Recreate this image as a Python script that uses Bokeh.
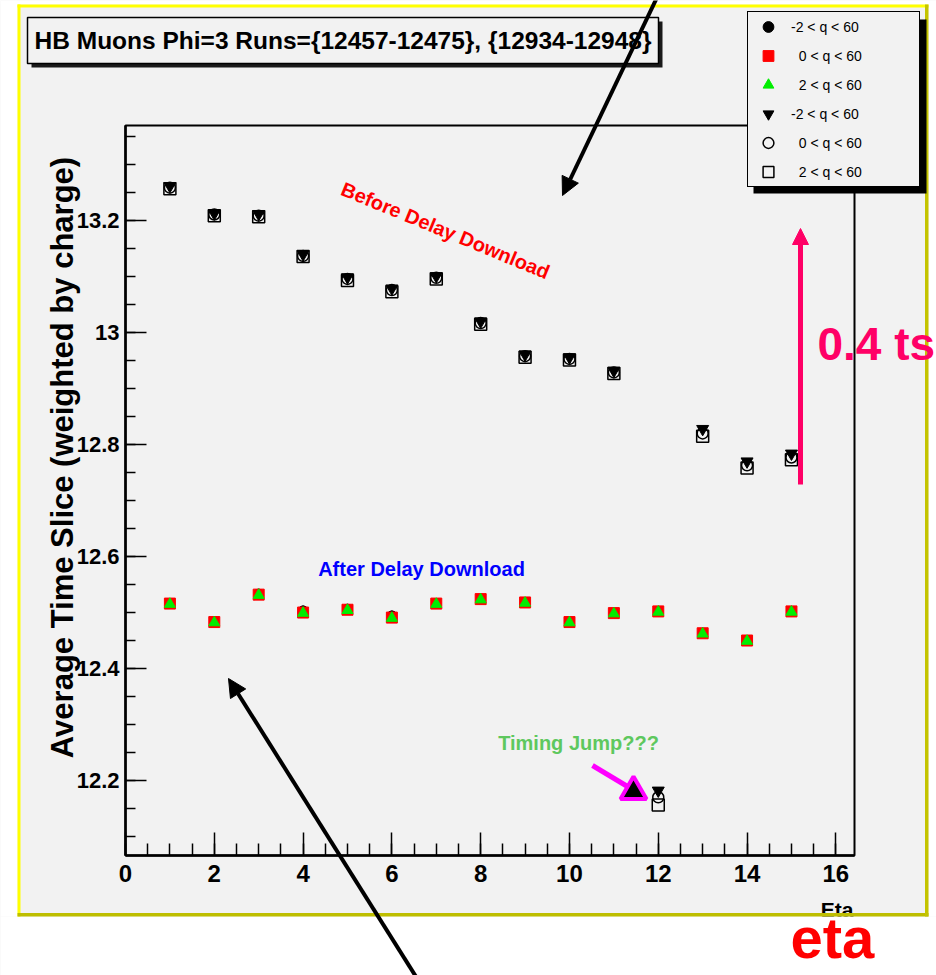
import math
from bokeh.plotting import figure
from bokeh.models import (Range1d, FixedTicker, Label, BoxAnnotation, Arrow,
                          NormalHead, Legend, LegendItem, LinearAxis)
from bokeh.embed import file_html
from bokeh.resources import INLINE

# ---------------- data ----------------
eta = [1, 2, 3, 4, 5, 6, 7, 8, 9, 10, 11, 12, 13, 14, 15]

# after delay download (filled markers)
after_q_m2 = [12.518, 12.485, 12.535, 12.505, 12.508, 12.496, 12.518, 12.526,
              12.520, 12.485, 12.501, 12.504, 12.465, 12.452, 12.504]
after_q_0 = [12.516, 12.483, 12.532, 12.500, 12.505, 12.491, 12.516, 12.524,
             12.518, 12.483, 12.499, 12.502, 12.463, 12.450, 12.502]
after_q_2 = [12.515, 12.482, 12.531, 12.499, 12.504, 12.490, 12.515, 12.523,
             12.517, 12.482, 12.498, 12.501, 12.462, 12.449, 12.501]

# before delay download (open / inverted markers)
before_q_m2 = [13.262, 13.213, 13.212, 13.140, 13.099, 13.079, 13.101, 13.020,
               12.961, 12.956, 12.932, 12.182, 12.828, 12.770, 12.784]
before_q_0 = [13.259, 13.211, 13.209, 13.137, 13.096, 13.076, 13.098, 13.017,
              12.958, 12.953, 12.929, 12.170, 12.820, 12.763, 12.777]
before_q_2 = [13.257, 13.209, 13.207, 13.136, 13.093, 13.073, 13.096, 13.015,
              12.956, 12.951, 12.927, 12.156, 12.815, 12.758, 12.773]

legend_labels = ["-2 < q < 60", "\u20070 < q < 60", "\u20072 < q < 60",
                 "-2 < q < 60", "\u20070 < q < 60", "\u20072 < q < 60"]

x_major_ticks = [0, 2, 4, 6, 8, 10, 12, 14, 16]
x_minor_ticks = [0.5 * i for i in range(33)]
y_major_ticks = [12.2, 12.4, 12.6, 12.8, 13.0, 13.2]
y_tick_labels = ["12.2", "12.4", "12.6", "12.8", "13", "13.2"]
y_minor_ticks = [round(12.1 + 0.05 * i, 2) for i in range(26)]

TITLE = "HB Muons Phi=3 Runs={12457-12475}, {12934-12948}"
Y_TITLE = "Average Time Slice (weighted by charge)"
X_TITLE = "Eta"

# ---------------- layout ----------------
W, H = 936, 975
# data-area edges in pixels and the data values they carry
FL, FR, FT, FB = 125, 854, 125, 855
X0, X1 = 0.0, 16.42
Y0, Y1 = 12.066, 13.37
FONT = "Liberation Sans"


def dx(px):
    return X0 + (px - FL) / (FR - FL) * (X1 - X0)


def dy(py):
    return Y0 + (FB - py) / (FB - FT) * (Y1 - Y0)


p = figure(width=W, height=H, title=None,
           x_range=Range1d(dx(0), dx(W)), y_range=Range1d(dy(H), dy(0)),
           output_backend="svg", toolbar_location=None,
           x_axis_type=None, y_axis_type=None,
           min_border_left=0, min_border_right=0,
           min_border_top=0, min_border_bottom=0)
p.background_fill_color = "#f2f2f2"
p.border_fill_color = "white"
p.outline_line_color = None
p.xgrid.visible = False
p.ygrid.visible = False

xaxis = LinearAxis(fixed_location=Y0, bounds=(X0, X1),
                   ticker=FixedTicker(ticks=x_major_ticks, minor_ticks=x_minor_ticks))
yaxis = LinearAxis(fixed_location=X0, bounds=(Y0, Y1),
                   ticker=FixedTicker(ticks=y_major_ticks, minor_ticks=y_minor_ticks),
                   major_label_overrides=dict(zip(y_major_ticks, y_tick_labels)))
for ax in (xaxis, yaxis):
    ax.axis_line_width = 2.5
    ax.axis_line_color = "black"
    ax.major_tick_line_width = 1.5
    ax.minor_tick_line_width = 1.5
    ax.major_tick_line_color = "black"
    ax.minor_tick_line_color = "black"
    ax.major_tick_out = 0
    ax.minor_tick_out = 0
    ax.major_label_text_font = FONT
    ax.major_label_text_font_style = "bold"
    ax.major_label_text_color = "black"
xaxis.major_label_text_font_size = "24px"
xaxis.major_label_standoff = 9
yaxis.major_label_text_font_size = "22px"
yaxis.major_label_standoff = 6
xaxis.major_tick_in = 23
xaxis.minor_tick_in = 12
yaxis.major_tick_in = 21
yaxis.minor_tick_in = 10
p.add_layout(xaxis, "below")
p.add_layout(yaxis, "left")

# ---------------- data markers ----------------
r_a1 = p.scatter(eta, after_q_m2, marker="circle", size=8,
                 fill_color="black", line_color="black")
r_a2 = p.scatter(eta, after_q_0, marker="square", size=11,
                 fill_color="#ff0000", line_color="#ff0000")
r_a3 = p.scatter(eta, after_q_2, marker="triangle", size=11,
                 fill_color="#00ee00", line_color="#00ee00")
r_b1 = p.scatter(eta, before_q_m2, marker="inverted_triangle", size=12,
                 fill_color="black", line_color="black")
r_b2 = p.scatter(eta, before_q_0, marker="circle", size=11,
                 fill_color=None, line_color="black", line_width=1.5)
r_b3 = p.scatter(eta, before_q_2, marker="square", size=12,
                 fill_color=None, line_color="black", line_width=1.5)


def box(l, r, t, b, fill, line=None, lw=1.0):
    bx = BoxAnnotation(left=dx(l), right=dx(r), top=dy(t), bottom=dy(b),
                       fill_color=fill, fill_alpha=1.0,
                       line_color=line, line_alpha=1.0, line_width=lw)
    p.add_layout(bx)
    return bx


def label(px, py, text, size, color="black", style="bold", align="left",
          baseline="middle", angle=0.0):
    lb = Label(x=dx(px), y=dy(py), text=text, text_font=FONT,
               text_font_size=f"{size}px", text_font_style=style,
               text_color=color, text_align=align, text_baseline=baseline,
               angle=angle)
    p.add_layout(lb)
    return lb


# frame outline of the data area
p.add_layout(BoxAnnotation(left=X0, right=X1, top=Y1, bottom=Y0,
                           fill_color=None, line_color="black", line_alpha=1.0,
                           line_width=2))

# axis titles
label(62, 457, Y_TITLE, 31, align="center", angle=math.pi / 2)
label(853, 897, X_TITLE, 21, align="right", baseline="top")

# outer white area and canvas border
box(0, W, 916, H, "white")
box(0, 17, 0, 916, "white")
box(0, W, 0, 4, "white")
box(928, W, 0, 916, "white")
box(17, 928, 4, 7, "#ffff00")
box(17, 20, 4, 916, "#ffff00")
box(17, 928, 912.5, 916, "#bebe00")
box(924.5, 928, 4, 916, "#c4c400")

# title box
box(31, 662, 21, 67, "#1a1a1a")
box(27, 658, 17, 63, "#f2f2f2", "black", 1.5)
label(342.5, 40, TITLE, 24.5, align="center")

# legend
box(753, 926, 19, 193, "black")
renderers = [r_a1, r_a2, r_a3, r_b1, r_b2, r_b3]
items = [LegendItem(label=t, renderers=[r]) for t, r in zip(legend_labels, renderers)]
legend = Legend(items=items, location=(747, H - 187),
                padding=1, spacing=2, glyph_height=27, glyph_width=38,
                label_standoff=4, label_width=127,
                label_text_font=FONT, label_text_font_size="14px",
                label_text_color="black",
                background_fill_color="#f2f2f2", background_fill_alpha=1.0,
                border_line_color="black", border_line_alpha=1.0,
                border_line_width=1)
p.add_layout(legend)

# annotations
label(445, 230, "Before Delay Download", 20, color="#ff0000", align="center",
      angle=-0.39)
label(421, 568, "After Delay Download", 20, color="#0000ff", align="center")
label(578, 742, "Timing Jump???", 20, color="#5ec85e", align="center")
label(817, 343, "0.4 ts", 46, color="#ff0066")

p.add_layout(Arrow(end=NormalHead(size=16, fill_color="#ff0066", line_color="#ff0066"),
                   x_start=dx(800), y_start=dy(484), x_end=dx(800), y_end=dy(228),
                   line_color="#ff0066", line_width=5))

p.add_layout(Arrow(end=None, x_start=dx(592), y_start=dy(765),
                   x_end=dx(627), y_end=dy(786),
                   line_color="#ff00ff", line_width=5))
p.scatter([dx(633)], [dy(791)], marker="triangle", size=26,
          fill_color="black", line_color="#ff00ff", line_width=4)

p.add_layout(Arrow(end=NormalHead(size=18, fill_color="black", line_color="black"),
                   x_start=dx(656), y_start=dy(-2), x_end=dx(562), y_end=dy(195),
                   line_color="black", line_width=4))
p.add_layout(Arrow(end=NormalHead(size=18, fill_color="black", line_color="black"),
                   x_start=dx(416), y_start=dy(977), x_end=dx(228), y_end=dy(678),
                   line_color="black", line_width=4))

label(790, 937, "eta", 58, color="#ff0000")

open("out.html", "w").write(file_html(p, INLINE))
